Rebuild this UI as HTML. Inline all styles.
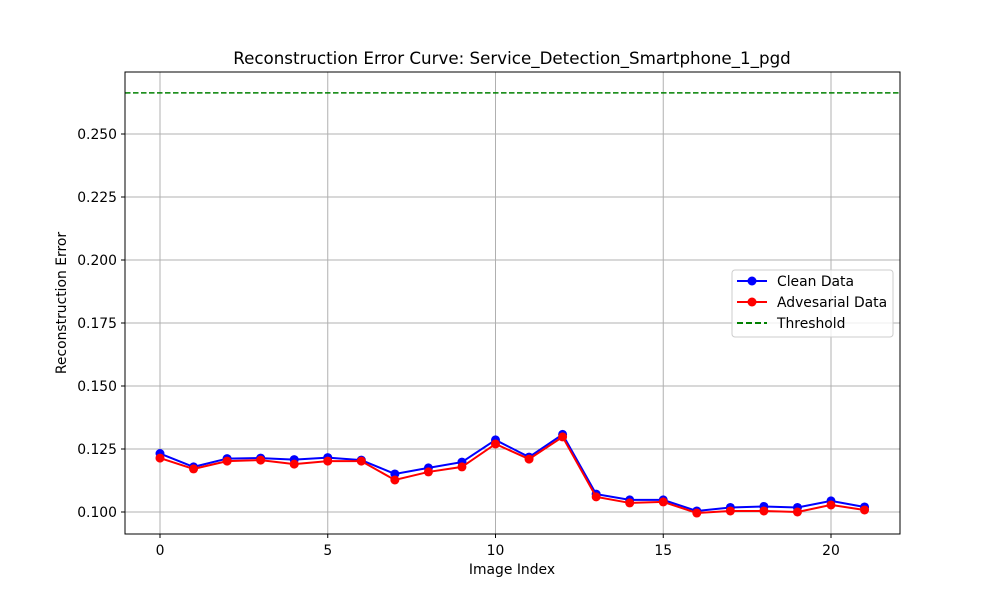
<!DOCTYPE html>
<html><head><meta charset="utf-8"><style>
body{margin:0;background:#fff;}
svg text{font-family:"DejaVu Sans","Liberation Sans",sans-serif;}
</style></head><body>
<svg id="chart" width="1000" height="600" xmlns="http://www.w3.org/2000/svg">
<rect width="1000" height="600" fill="#fff"/>
<g id="grid"></g>
<g id="series"></g>
<rect x="125" y="72" width="775" height="462" fill="none" stroke="#000" stroke-width="1"/>
<g id="axes"></g>
<text x="512" y="64" font-size="16.7" text-anchor="middle">Reconstruction Error Curve: Service_Detection_Smartphone_1_pgd</text>
<text x="512" y="574" font-size="13.9" text-anchor="middle">Image Index</text>
<text x="66" y="303" font-size="13.9" text-anchor="middle" transform="rotate(-90 66 303)">Reconstruction Error</text>
<g>
<rect x="732" y="270" width="161" height="67" rx="3" fill="#fff" fill-opacity="0.8" stroke="#ccc"/>
<g><line x1="737" y1="281" x2="767" y2="281" stroke="blue" stroke-width="2"/><circle cx="752" cy="281" r="4.5" fill="blue"/><text x="777" y="286" font-size="13.9">Clean Data</text></g>
<g><line x1="737" y1="302" x2="767" y2="302" stroke="red" stroke-width="2"/><circle cx="752" cy="302" r="4.5" fill="red"/><text x="777" y="307" font-size="13.9">Advesarial Data</text></g>
<g><line x1="737" y1="323" x2="767" y2="323" stroke="green" stroke-width="2" stroke-dasharray="6,3"/><text x="777" y="328" font-size="13.9">Threshold</text></g>
</g>
</svg>
<script>
const cleanData=[0.1232,0.1179,0.1212,0.1214,0.1208,0.1216,0.1206,0.1151,0.1175,0.1198,0.1286,0.1218,0.1308,0.1071,0.1048,0.1048,0.1004,0.1018,0.1022,0.1018,0.1044,0.1020];
const advData=[0.1214,0.1171,0.1202,0.1206,0.1190,0.1202,0.1202,0.1127,0.1159,0.1179,0.1270,0.1210,0.1298,0.1060,0.1036,0.1040,0.0996,0.1004,0.1004,0.1000,0.1028,0.1008];
const threshold=0.2663;
const xTicks=[0,5,10,15,20];
const yTicks=[0.100,0.125,0.150,0.175,0.200,0.225,0.250];
const NS="http://www.w3.org/2000/svg";
const X=v=>160+v*33.55;
const Y=v=>512-(v-0.1)*2520;
function mk(tag,attrs,parent){const e=document.createElementNS(NS,tag);for(const k in attrs)e.setAttribute(k,attrs[k]);parent.appendChild(e);return e;}
const grid=document.getElementById('grid'),axes=document.getElementById('axes'),series=document.getElementById('series');
xTicks.forEach(t=>{
 const g=mk('line',{x1:X(t),x2:X(t),y1:72,y2:534,stroke:'#b0b0b0','stroke-width':1},grid);
 
 
 mk('line',{x1:X(t),x2:X(t),y1:534,y2:538,stroke:'#000'},axes);
 const tx=mk('text',{x:X(t),y:555,'font-size':13.9,'text-anchor':'middle'},axes);tx.textContent=t;
 
 
});
yTicks.forEach(t=>{
 const g=mk('line',{x1:125,x2:900,y1:Y(t),y2:Y(t),stroke:'#b0b0b0','stroke-width':1},grid);
 
 
 mk('line',{x1:121,x2:125,y1:Y(t),y2:Y(t),stroke:'#000'},axes);
 const tx=mk('text',{x:117,y:Y(t)+5,'font-size':13.9,'text-anchor':'end'},axes);tx.textContent=t.toFixed(3);
 
 
});
const th=mk('line',{x1:125,x2:900,y1:Y(threshold),y2:Y(threshold),stroke:'green','stroke-width':1.5,'stroke-dasharray':'5.5,2.5'},series);


[[cleanData,'blue','clean'],[advData,'red','adversarial']].forEach(([d,c,n])=>{
 const p=mk('polyline',{points:d.map((v,i)=>X(i)+','+Y(v)).join(' '),fill:'none',stroke:c,'stroke-width':2},series);
 
 
 d.forEach((v,i)=>{
  const m=mk('circle',{cx:X(i),cy:Y(v),r:4.5,fill:c},series);
  
  
 });
});
</script>
</body></html>
